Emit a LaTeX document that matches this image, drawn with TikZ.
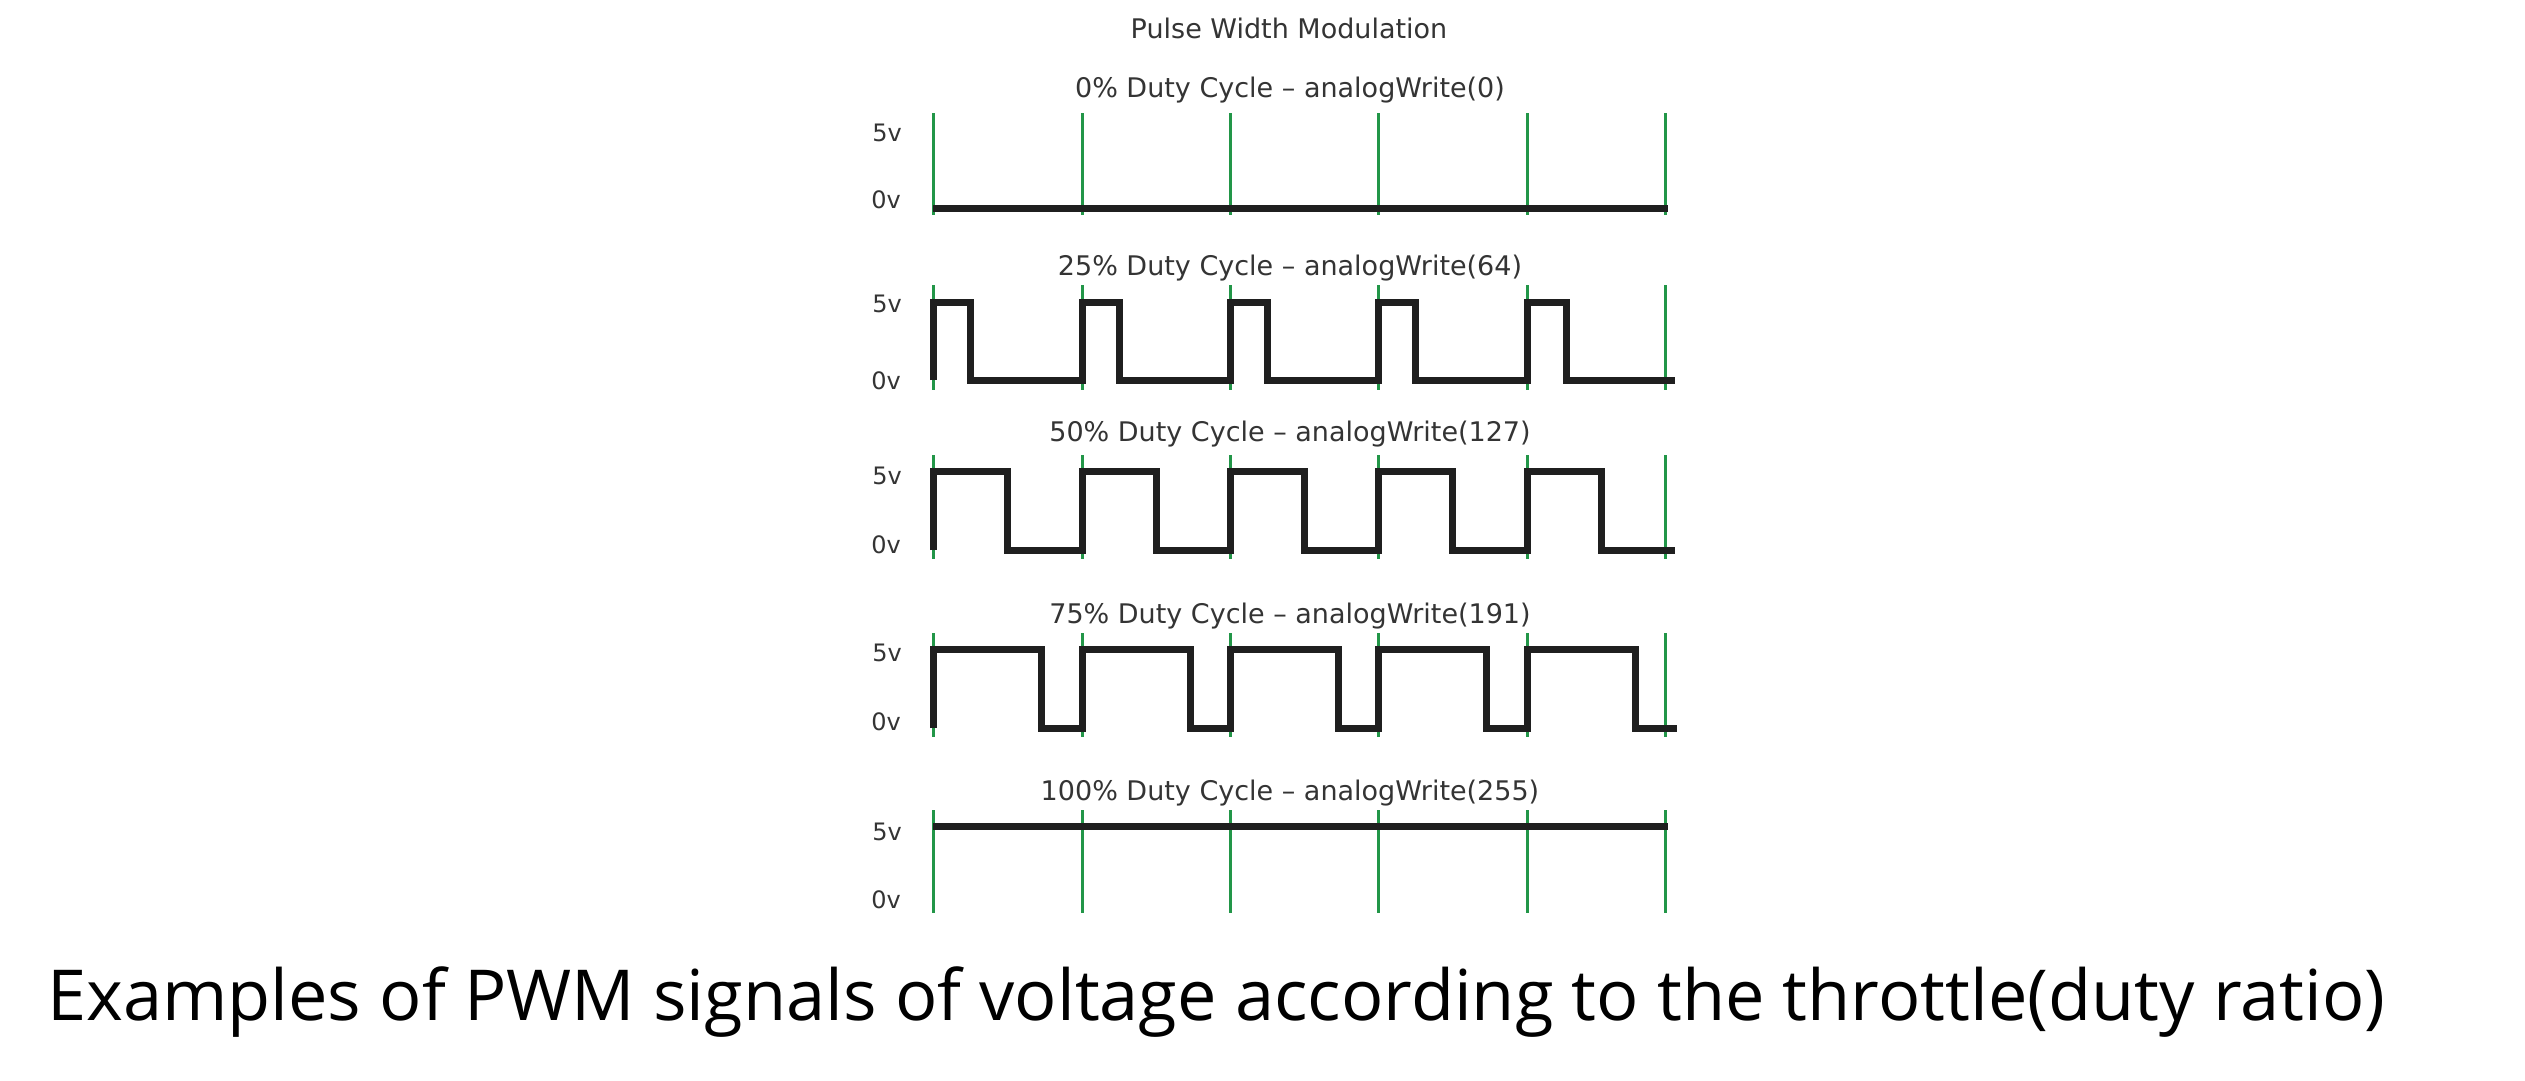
\documentclass[tikz,border=0pt]{standalone}
\usepackage{fontspec}
\setmainfont{DejaVu Sans}
\newfontfamily\capfont{Open Sans}
\definecolor{gridgreen}{RGB}{34,150,72}
\definecolor{labelgray}{RGB}{52,52,52}
\tikzset{
  gridline/.style={gridgreen, line width=3pt},
  wave/.style={black!88, line width=7pt, line join=miter},
  lvl/.style={font=\fontsize{24pt}{24pt}\selectfont, text=labelgray, inner sep=0pt},
  dutytitle/.style={font=\fontsize{27pt}{27pt}\selectfont, text=labelgray, inner sep=0pt, anchor=base},
}

\begin{document}
\begin{tikzpicture}[x=1pt,y=-1pt]
\useasboundingbox (0,0) rectangle (2525,1081);
\node[dutytitle] (pwmtitle) at (1289,39) {Pulse Width Modulation};
% 0% row
\node[dutytitle] (duty0) at (1290,98) {0\% Duty Cycle – analogWrite(0)};
\node[lvl] (hi0) at (887,133) {5v};
\node[lvl] (lo0) at (886,200) {0v};
\draw[gridline] (933,113) -- (933,215) (1082,113) -- (1082,215) (1230,113) -- (1230,215)
  (1378,113) -- (1378,215) (1527,113) -- (1527,215) (1665,113) -- (1665,215);
\draw[wave] (933,208) -- (1668,208);
% 25% row
\node[dutytitle] (duty25) at (1290,275) {25\% Duty Cycle – analogWrite(64)};
\node[lvl] (hi25) at (887,304) {5v};
\node[lvl] (lo25) at (886,381) {0v};
\draw[gridline] (933,285) -- (933,390) (1082,285) -- (1082,390) (1230,285) -- (1230,390)
  (1378,285) -- (1378,390) (1527,285) -- (1527,390) (1665,285) -- (1665,390);
\draw[wave] (933,380) -- (933,302) -- (970,302) -- (970,380) -- (1082,380) -- (1082,302)
  -- (1119,302) -- (1119,380) -- (1230,380) -- (1230,302) -- (1267,302) -- (1267,380)
  -- (1378,380) -- (1378,302) -- (1415,302) -- (1415,380) -- (1527,380) -- (1527,302)
  -- (1566,302) -- (1566,380) -- (1675,380);
% 50% row
\node[dutytitle] (duty50) at (1290,441) {50\% Duty Cycle – analogWrite(127)};
\node[lvl] (hi50) at (887,476) {5v};
\node[lvl] (lo50) at (886,545) {0v};
\draw[gridline] (933,455) -- (933,559) (1082,455) -- (1082,559) (1230,455) -- (1230,559)
  (1378,455) -- (1378,559) (1527,455) -- (1527,559) (1665,455) -- (1665,559);
\draw[wave] (933,550) -- (933,471) -- (1007,471) -- (1007,550) -- (1082,550) -- (1082,471)
  -- (1156,471) -- (1156,550) -- (1230,550) -- (1230,471) -- (1304,471) -- (1304,550)
  -- (1378,550) -- (1378,471) -- (1452,471) -- (1452,550) -- (1527,550) -- (1527,471)
  -- (1601,471) -- (1601,550) -- (1675,550);
% 75% row
\node[dutytitle] (duty75) at (1290,623) {75\% Duty Cycle – analogWrite(191)};
\node[lvl] (hi75) at (887,653) {5v};
\node[lvl] (lo75) at (886,722) {0v};
\draw[gridline] (933,633) -- (933,737) (1082,633) -- (1082,737) (1230,633) -- (1230,737)
  (1378,633) -- (1378,737) (1527,633) -- (1527,737) (1665,633) -- (1665,737);
\draw[wave] (933,728) -- (933,649) -- (1041,649) -- (1041,728) -- (1082,728) -- (1082,649)
  -- (1190,649) -- (1190,728) -- (1230,728) -- (1230,649) -- (1338,649) -- (1338,728)
  -- (1378,728) -- (1378,649) -- (1486,649) -- (1486,728) -- (1527,728) -- (1527,649)
  -- (1635,649) -- (1635,728) -- (1677,728);
% 100% row
\node[dutytitle] (duty100) at (1290,800) {100\% Duty Cycle – analogWrite(255)};
\node[lvl] (hi100) at (887,832) {5v};
\node[lvl] (lo100) at (886,900) {0v};
\draw[gridline] (933,810) -- (933,913) (1082,810) -- (1082,913) (1230,810) -- (1230,913)
  (1378,810) -- (1378,913) (1527,810) -- (1527,913) (1665,810) -- (1665,913);
\draw[wave] (933,826) -- (1668,826);
% caption
\node[anchor=base west, inner sep=0pt, font=\capfont\fontsize{70.3pt}{70.3pt}\selectfont] (caption) at (47,1020)
  {Examples of PWM signals of voltage according to the throttle(duty ratio)};
\end{tikzpicture}
\end{document}
